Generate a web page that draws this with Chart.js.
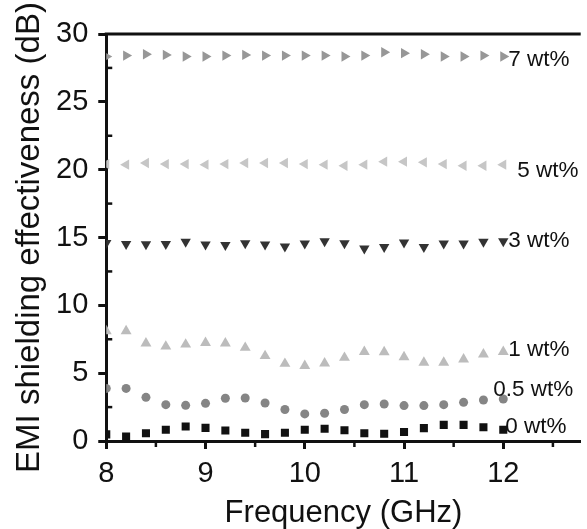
<!DOCTYPE html>
<html>
<head>
<meta charset="utf-8">
<script src="https://cdn.jsdelivr.net/npm/chart.js@4/dist/chart.umd.min.js"></script>
<style>
  html, body { margin: 0; padding: 0; background: #fff; }
</style>
</head>
<body>
<canvas id="emiChart" width="587" height="529"></canvas>
<script>
// frequency points (GHz)
const freq = [8.0, 8.2, 8.4, 8.6, 8.8, 9.0, 9.2, 9.4, 9.6, 9.8, 10.0,
  10.2, 10.4, 10.6, 10.8, 11.0, 11.2, 11.4, 11.6, 11.8, 12.0];

// shielding effectiveness (dB) per filler loading
const se0 = [0.49, 0.34, 0.58, 0.83, 1.07, 0.97, 0.78, 0.61, 0.51, 0.61, 0.83,
  0.90, 0.80, 0.58, 0.54, 0.66, 0.95, 1.19, 1.19, 1.02, 0.83];
const se05 = [3.88, 3.88, 3.22, 2.68, 2.63, 2.78, 3.15, 3.17, 2.80, 2.32, 2.00,
  2.05, 2.32, 2.68, 2.73, 2.61, 2.61, 2.68, 2.85, 3.02, 3.10];
const se1 = [8.10, 8.10, 7.20, 6.97, 7.12, 7.24, 7.20, 6.88, 6.27, 5.70, 5.54,
  5.73, 6.14, 6.58, 6.56, 6.19, 5.78, 5.78, 6.02, 6.39, 6.58];
const se3 = [14.60, 14.53, 14.50, 14.53, 14.68, 14.48, 14.44, 14.58, 14.48, 14.34, 14.56,
  14.73, 14.58, 14.19, 14.30, 14.63, 14.30, 14.56, 14.56, 14.68, 14.73];
const se5 = [20.41, 20.37, 20.49, 20.41, 20.41, 20.37, 20.41, 20.49, 20.49, 20.49, 20.41,
  20.37, 20.29, 20.37, 20.59, 20.59, 20.54, 20.41, 20.29, 20.29, 20.37];
const se7 = [28.34, 28.41, 28.51, 28.46, 28.34, 28.34, 28.41, 28.46, 28.41, 28.41, 28.41,
  28.41, 28.34, 28.41, 28.66, 28.59, 28.51, 28.34, 28.34, 28.41, 28.34];

const seriesNames = ['0 wt%', '0.5 wt%', '1 wt%', '3 wt%', '5 wt%', '7 wt%'];
const xTicks = [8, 9, 10, 11, 12];
const yTicks = [0, 5, 10, 15, 20, 25, 30];
const xMinorTicks = [8.5, 9.5, 10.5, 11.5, 12.5];
const yMinorTicks = [2.5, 7.5, 12.5, 17.5, 22.5, 27.5];

const fontFamily = '"Liberation Sans", Arial, Helvetica, sans-serif';

const toPoints = function (ys) {
  return freq.map((x, i) => ({ x: x, y: ys[i] }));
};

// marker look per series
const styles = [
  { data: se0, color: '#111111', pointStyle: 'rect', radius: 5.7, rotation: 0 },
  { data: se05, color: '#858585', pointStyle: 'circle', radius: 4.5, rotation: 0 },
  { data: se1, color: '#bcbcbc', pointStyle: 'triangle', radius: 6.3, rotation: 0 },
  { data: se3, color: '#333333', pointStyle: 'triangle', radius: 6, rotation: 180 },
  { data: se5, color: '#c6c6c6', pointStyle: 'triangle', radius: 6, rotation: -90 },
  { data: se7, color: '#979797', pointStyle: 'triangle', radius: 6, rotation: 90 }
];

// where each label sits relative to the last point (px)
const labelOffsets = [[2, -3], [-10, -9], [5, -2], [5, 0], [14, 6], [5, 3]];

const datasets = styles.map((s, i) => ({
  label: seriesNames[i],
  data: toPoints(s.data),
  showLine: false,
  pointStyle: s.pointStyle,
  pointRotation: s.rotation,
  pointRadius: s.radius,
  pointBackgroundColor: s.color,
  pointBorderColor: s.color,
  pointBorderWidth: 0,
  clip: 0
}));

// top frame line, minor ticks and series labels
const extrasPlugin = {
  id: 'extras',
  afterDraw(chart) {
    const ctx = chart.ctx;
    const area = chart.chartArea;
    const xs = chart.scales.x;
    const ys = chart.scales.y;
    ctx.save();
    ctx.strokeStyle = '#111';
    ctx.lineWidth = 3;
    ctx.beginPath();
    ctx.moveTo(area.left - 1.5, area.top);
    ctx.lineTo(area.right, area.top);
    ctx.stroke();

    ctx.lineWidth = 2.5;
    xMinorTicks.forEach(v => {
      const px = xs.getPixelForValue(v);
      ctx.beginPath();
      ctx.moveTo(px, area.bottom);
      ctx.lineTo(px, area.bottom + 6);
      ctx.stroke();
    });
    yMinorTicks.forEach(v => {
      const py = ys.getPixelForValue(v);
      ctx.beginPath();
      ctx.moveTo(area.left, py);
      ctx.lineTo(area.left + 6, py);
      ctx.stroke();
    });

    ctx.fillStyle = '#111';
    ctx.font = '22.5px ' + fontFamily;
    ctx.textAlign = 'left';
    ctx.textBaseline = 'middle';
    styles.forEach((s, i) => {
      const last = s.data.length - 1;
      const px = xs.getPixelForValue(freq[last]) + labelOffsets[i][0];
      const py = ys.getPixelForValue(s.data[last]) + labelOffsets[i][1];
      ctx.fillText(seriesNames[i], px, py);
    });
    ctx.restore();
  }
};

const ctxEmi = document.getElementById('emiChart');

const emiChart = new Chart(ctxEmi, {
  type: 'scatter',
  data: { datasets: datasets },
  plugins: [extrasPlugin],
  options: {
    responsive: false,
    animation: false,
    layout: { padding: { left: 5, top: 34, right: 0, bottom: 0 } },
    plugins: {
      legend: { display: false },
      tooltip: { enabled: false }
    },
    scales: {
      x: {
        type: 'linear',
        min: 8,
        max: 12.78,
        afterBuildTicks: (scale) => { scale.ticks = xTicks.map(v => ({ value: v })); },
        ticks: { color: '#111', font: { family: fontFamily, size: 29, lineHeight: 0.93 }, padding: 11, maxRotation: 0 },
        grid: { drawOnChartArea: false, drawTicks: true, tickLength: 8, tickWidth: 3, tickColor: '#111' },
        border: { display: true, color: '#111', width: 3 },
        title: {
          display: true,
          text: 'Frequency (GHz)',
          color: '#111',
          font: { family: fontFamily, size: 31, lineHeight: 1 },
          padding: { top: 0, bottom: 0 }
        }
      },
      y: {
        type: 'linear',
        min: 0,
        max: 30,
        afterBuildTicks: (scale) => { scale.ticks = yTicks.map(v => ({ value: v })); },
        ticks: { color: '#111', font: { family: fontFamily, size: 29 }, padding: 10 },
        grid: { drawOnChartArea: false, drawTicks: true, tickLength: 8, tickWidth: 3, tickColor: '#111' },
        border: { display: true, color: '#111', width: 3 },
        title: {
          display: true,
          text: 'EMI shielding effectiveness (dB)',
          color: '#111',
          font: { family: fontFamily, size: 33, lineHeight: 1 },
          padding: { top: 8, bottom: 0 }
        }
      }
    }
  }
});
</script>
</body>
</html>
